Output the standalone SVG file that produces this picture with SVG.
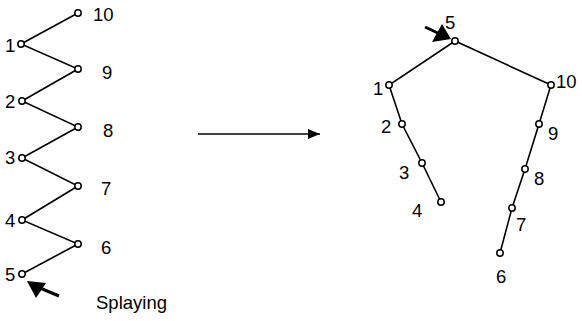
<svg xmlns="http://www.w3.org/2000/svg" width="582" height="321" viewBox="0 0 582 321">
<style>
.e{stroke:#000;stroke-width:1.6;fill:none}
.n{fill:#fff;stroke:#000;stroke-width:1.5}
text{font-family:"Liberation Sans",Arial,sans-serif;font-size:18.5px;fill:#000}
</style>
<defs>
<marker id="ah" viewBox="0 0 12 10" refX="12" refY="5" markerWidth="12" markerHeight="10" markerUnits="userSpaceOnUse" orient="auto"><path d="M0,0L12,5L0,10z" fill="#000"/></marker>
</defs>
<g id="connectors">
<polyline class="e" points="78,13 21,44 78,69 22,101 78,127 22,158 78,186 22,220 78,244 22,274"/>
<polyline class="e" points="441,202 422,163 402,124 389,85 455,41 551,85 539,124 525,169 512,208 500,253"/>
<line x1="198" y1="134" x2="320" y2="134" stroke="#000" stroke-width="1.6" marker-end="url(#ah)"/>
<line x1="59" y1="296" x2="40" y2="288" stroke="#000" stroke-width="3"/>
<path d="M27,281L36,298L46,283z" fill="#000"/>
<line x1="425" y1="27" x2="440" y2="34" stroke="#000" stroke-width="3"/>
<path d="M451,39L432,42L442,24z" fill="#000"/>
</g>
<g id="left-tree">
<g id="l10"><circle class="n" cx="78" cy="13" r="3.2"/><text x="93" y="21">10</text></g>
<g id="l1"><circle class="n" cx="21" cy="44" r="3.2"/><text x="5" y="52">1</text></g>
<g id="l9"><circle class="n" cx="78" cy="69" r="3.2"/><text x="102" y="79">9</text></g>
<g id="l2"><circle class="n" cx="22" cy="101" r="3.2"/><text x="5" y="108">2</text></g>
<g id="l8"><circle class="n" cx="78" cy="127" r="3.2"/><text x="103" y="137">8</text></g>
<g id="l3"><circle class="n" cx="22" cy="158" r="3.2"/><text x="5" y="164">3</text></g>
<g id="l7"><circle class="n" cx="78" cy="186" r="3.2"/><text x="101" y="195">7</text></g>
<g id="l4"><circle class="n" cx="22" cy="220" r="3.2"/><text x="5" y="227">4</text></g>
<g id="l6"><circle class="n" cx="78" cy="244" r="3.2"/><text x="101" y="254">6</text></g>
<g id="l5"><circle class="n" cx="22" cy="274" r="3.2"/><text x="5" y="281">5</text></g>
</g>
<text id="splaying" x="96" y="309">Splaying</text>
<g id="right-tree">
<g id="r5"><circle class="n" cx="455" cy="41" r="3.2"/><text x="445" y="29">5</text></g>
<g id="r1"><circle class="n" cx="389" cy="85" r="3.2"/><text x="373" y="95">1</text></g>
<g id="r10"><circle class="n" cx="551" cy="85" r="3.2"/><text x="556" y="88">10</text></g>
<g id="r2"><circle class="n" cx="402" cy="124" r="3.2"/><text x="381" y="133">2</text></g>
<g id="r9"><circle class="n" cx="539" cy="124" r="3.2"/><text x="548" y="140">9</text></g>
<g id="r3"><circle class="n" cx="422" cy="163" r="3.2"/><text x="399" y="179">3</text></g>
<g id="r4"><circle class="n" cx="441" cy="202" r="3.2"/><text x="412" y="217">4</text></g>
<g id="r8"><circle class="n" cx="525" cy="169" r="3.2"/><text x="534" y="185">8</text></g>
<g id="r7"><circle class="n" cx="512" cy="208" r="3.2"/><text x="516" y="231">7</text></g>
<g id="r6"><circle class="n" cx="500" cy="253" r="3.2"/><text x="496" y="283">6</text></g>
</g>
</svg>
